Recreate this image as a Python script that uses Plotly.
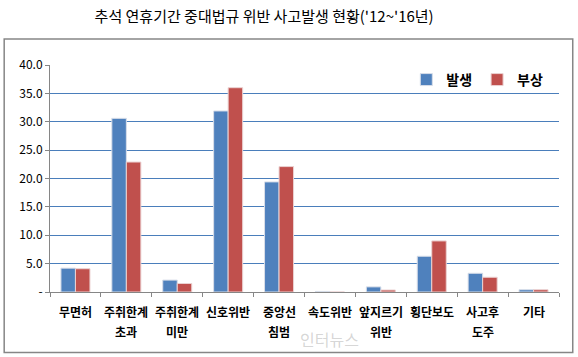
import plotly.graph_objects as go

categories = ["무면허", "주취한계<br>초과", "주취한계<br>미만", "신호위반", "중앙선<br>침범",
              "속도위반", "앞지르기<br>위반", "횡단보도", "사고후<br>도주", "기타"]
occur = [4.2, 30.6, 2.1, 31.9, 19.4, 0.1, 0.9, 6.3, 3.3, 0.4]
injury = [4.1, 22.9, 1.5, 36.0, 22.1, 0.0, 0.35, 9.0, 2.6, 0.4]
series_names = ["발생", "부상"]
ytick_vals = [0, 5, 10, 15, 20, 25, 30, 35, 40]
ytick_text = ["-", "5.0", "10.0", "15.0", "20.0", "25.0", "30.0", "35.0", "40.0"]
title_text = "추석 연휴기간 중대법규 위반 사고발생 현황('12~'16년)"

FONT = "Noto Sans CJK KR"
fig = go.Figure()
fig.add_trace(go.Bar(x=categories, y=occur, name=series_names[0],
                     marker=dict(color="#4F81BD", line=dict(color="#D8DEE9", width=1))))
fig.add_trace(go.Bar(x=categories, y=injury, name=series_names[1],
                     marker=dict(color="#C0504D", line=dict(color="#EBD2D2", width=1))))

fig.update_layout(
    width=578, height=357,
    margin=dict(l=50, r=19, t=65, b=65, autoexpand=False),
    paper_bgcolor="white", plot_bgcolor="white",
    barmode="group", bargap=0.43, bargroupgap=0,
    font=dict(family=FONT, color="black", size=12),
    title=dict(text=title_text, x=0.457, xanchor="center", y=0.952, yanchor="middle",
               font=dict(family=FONT, size=15, color="black")),
    legend=dict(orientation="h", x=0.979, xanchor="right", y=0.934, yanchor="middle",
                font=dict(family=FONT, size=14, color="black", weight="bold"),
                traceorder="normal", bgcolor="rgba(0,0,0,0)",
                itemclick=False, itemwidth=30),
    showlegend=True,
)
fig.update_xaxes(type="category", showline=True, linecolor="#868686", linewidth=1,
                 ticks="outside", tickson="boundaries", ticklen=4, tickcolor="#868686",
                 showgrid=False, showticklabels=False, automargin=False)
fig.update_yaxes(range=[0, 40], tickvals=ytick_vals, ticktext=ytick_text,
                 showline=True, linecolor="#868686", linewidth=1,
                 ticks="outside", ticklen=4, tickcolor="#868686",
                 showgrid=True, gridcolor="#4A7EBB", gridwidth=1, automargin=False,
                 zeroline=False, tickfont=dict(family=FONT, size=12, color="black"))

# category labels, one annotation per line for Excel-like line spacing
for cat in categories:
    for i, line in enumerate(cat.split("<br>")):
        fig.add_annotation(text=line, x=cat, xref="x", y=0, yref="paper",
                           yanchor="middle", yshift=-19 - 20 * i, showarrow=False,
                           font=dict(family=FONT, size=12, color="black", weight="bold"))

# outer chart border
fig.add_shape(type="rect", xref="paper", yref="paper",
              x0=-0.09, x1=1.027, y0=-0.267, y1=1.115,
              line=dict(color="#868686", width=1.5), fillcolor="rgba(0,0,0,0)")
# watermark (faint, kept clear of the category labels)
fig.add_annotation(text="인터뉴스", xref="paper", yref="paper", x=0.55, y=-0.27,
                   yanchor="bottom", showarrow=False,
                   font=dict(family=FONT, size=16, color="rgba(150,150,150,0.4)"))

fig.write_html("out.html", config={"displayModeBar": False},
               post_script="document.body.style.margin='0';")
